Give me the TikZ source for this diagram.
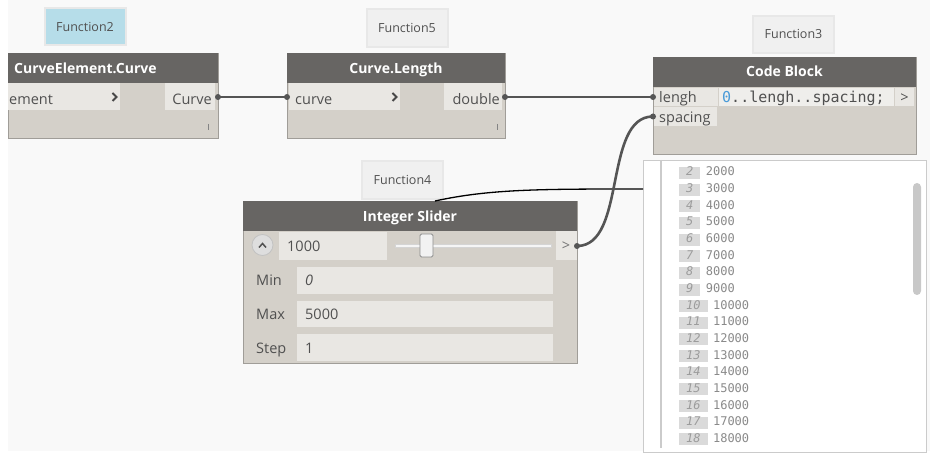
\documentclass[tikz,border=0pt]{standalone}
\usepackage{fontspec}
\setmainfont{Open Sans}
\newfontfamily\codefont{DejaVu Sans Mono}
\usetikzlibrary{calc}

\definecolor{canvas}{HTML}{F9F9F9}
\definecolor{hdrc}{HTML}{676563}
\definecolor{bodyc}{HTML}{D4D0C9}
\definecolor{edgec}{HTML}{A09D98}
\definecolor{portc}{HTML}{E9E7E3}
\definecolor{codec}{HTML}{EFEEEB}
\definecolor{ptxt}{HTML}{505050}
\definecolor{lblc}{HTML}{F0F0F0}
\definecolor{lblshade}{HTML}{E8E8E8}
\definecolor{lblblue}{HTML}{B6DDE9}
\definecolor{wirec}{HTML}{555555}
\definecolor{codeblue}{HTML}{4A9BD8}
\definecolor{listline}{HTML}{CBCBCB}
\definecolor{idxc}{HTML}{DADADA}
\definecolor{idxtxt}{HTML}{9C9C9C}
\definecolor{valtxt}{HTML}{8A8A8A}
\definecolor{scrollc}{HTML}{C8C8C8}

\begin{document}
\begin{tikzpicture}[x=1pt,y=-1pt,
  box/.style={anchor=north west, inner sep=0pt, outer sep=0pt, draw=none},
  bodybox/.style={box, fill=bodyc, draw=edgec, line width=0.8pt},
  hdr/.style={box, fill=hdrc},
  port/.style={box, fill=portc},
  fnlab/.style={fill=lblc, draw=lblshade, line width=2pt, inner sep=0pt,
    text=ptxt, font=\fontsize{12.5}{14}\selectfont},
  fntxt/.style={inner sep=0pt, text=ptxt, font=\fontsize{12.5}{14}\selectfont},
  title/.style={inner sep=0pt, text=white, font=\fontsize{14}{16}\selectfont\bfseries},
  ptext/.style={inner sep=0pt, text=ptxt, font=\fontsize{14.5}{17}\selectfont},
  chev/.style={draw=ptxt!90!black, line width=2pt},
  tickmark/.style={draw=ptxt!70, line width=0.9pt},
  wire/.style={draw=wirec, line width=2.6pt},
  pin/.style={fill=wirec},
  idx/.style={fill=idxc, inner xsep=7pt, inner ysep=0pt, text height=9pt, text depth=3pt,
    text=idxtxt, font=\codefont\fontsize{12}{14}\selectfont\itshape},
  val/.style={inner sep=0pt, text=valtxt, font=\codefont\fontsize{12}{14}\selectfont}]

\useasboundingbox (0,0) rectangle (930,454);
\fill[white] (0,0) rectangle (930,454);
\fill[canvas] (8,0) rectangle (930,451);

% ---------- group labels ----------
\node[fnlab, fill=lblblue, minimum width=81, minimum height=37] (f2) at (85,26.5) {};
\node[fntxt, anchor=base] (f2t) at (85,32) {Function2};
\node[fnlab, minimum width=81, minimum height=38] (f5) at (407,28) {};
\node[fntxt, anchor=base] (f5t) at (407,32.5) {Function5};
\node[fnlab, minimum width=81, minimum height=37] (f3) at (793.5,34.5) {};
\node[fntxt, anchor=base] (f3t) at (793.5,38.5) {Function3};
\node[fnlab, minimum width=81, minimum height=38] (f4) at (402.5,180) {};
\node[fntxt, anchor=base] (f4t) at (402.5,185) {Function4};

% ---------- CurveElement.Curve ----------
\node[bodybox, minimum width=210, minimum height=85] (cec) at (8,53) {};
\node[hdr, minimum width=210, minimum height=30] (cecHead) at (8,53) {};
\node[title, anchor=base west] (cecTitle) at (14,74) {CurveElement.Curve};
\node[port, minimum width=112, minimum height=27] (cecIn) at (8,83) {};
\node[ptext, anchor=base west] (cecInT) at (9,105) {ement};
\draw[chev] (112.5,93) -- (116.5,97) -- (112.5,101);
\node[port, minimum width=50, minimum height=27] (cecOut) at (165,83) {};
\node[ptext, anchor=base east] (cecOutT) at (212,105) {Curve};
\draw[tickmark] (208,124) -- (208,130);

% ---------- Curve.Length ----------
\node[bodybox, minimum width=218, minimum height=85] (cl) at (287,53) {};
\node[hdr, minimum width=218, minimum height=30] (clHead) at (287,53) {};
\node[title, anchor=base] (clTitle) at (396,74) {Curve.Length};
\node[port, minimum width=111, minimum height=27] (clIn) at (289,83) {};
\node[ptext, anchor=base west] (clInT) at (295,105) {curve};
\draw[chev] (392.5,93) -- (396.5,97) -- (392.5,101);
\node[port, minimum width=58, minimum height=27] (clOut) at (444,83) {};
\node[ptext, anchor=base east] (clOutT) at (500,105) {double};
\draw[tickmark] (497,124) -- (497,130);

% ---------- Code Block ----------
\node[bodybox, minimum width=263, minimum height=97] (cb) at (653,57) {};
\node[hdr, minimum width=263, minimum height=30] (cbHead) at (653,57) {};
\node[title, anchor=base] (cbTitle) at (784.5,77) {Code Block};
\node[port, minimum width=64, minimum height=18] (cbA) at (654,88) {};
\node[ptext, anchor=base west] (cbAT) at (659,103) {lengh};
\node[port, minimum width=63, minimum height=19] (cbB) at (654,107) {};
\node[ptext, anchor=base west] (cbBT) at (659,123) {spacing};
\node[box, fill=codec, minimum width=175, minimum height=18] (cbCode) at (719,88) {};
\node[inner sep=0pt, anchor=base west, text=ptxt, font=\codefont\fontsize{15}{17}\selectfont]
  (cbCodeT) at (722,103) {\textcolor{codeblue}{0}..lengh..spacing;};
\node[port, minimum width=19, minimum height=18] (cbOut) at (895,88) {};
\node[ptext, anchor=base] (cbOutT) at (904.5,102.5) {>};

% ---------- Integer Slider ----------
\node[bodybox, minimum width=334, minimum height=162] (sl) at (243,201) {};
\node[hdr, minimum width=334, minimum height=30] (slHead) at (243,201) {};
\node[title, anchor=base] (slTitle) at (410,222) {Integer Slider};
\node[circle, fill=black!13, draw=black!24, line width=0.8pt, minimum size=21, inner sep=0pt]
  (slBtn) at (262.5,245) {};
\draw[draw=ptxt, line width=1.5pt] (259,247.5) -- (262.5,243.5) -- (266,247.5);
\node[port, minimum width=108, minimum height=28] (slVal) at (279,232) {};
\node[ptext, anchor=base west] (slValT) at (287,252) {1000};
\filldraw[fill=black!4, draw=black!17, line width=0.6pt] (395,244) rectangle (551,247);
\filldraw[fill=black!5, draw=black!45, line width=0.8pt, rounded corners=1.5pt]
  (420,234) rectangle (433,257);
\node[port, minimum width=21, minimum height=29] (slOut) at (556,231) {};
\node[ptext, anchor=base, text=ptxt!80] (slOutT) at (566,251) {>};
\node[port, minimum width=256, minimum height=27] (slMin) at (297,267) {};
\node[ptext, anchor=base west] (slMinL) at (256,286) {Min};
\node[ptext, anchor=base west] (slMinV) at (305,286) {\itshape 0};
\node[port, minimum width=256, minimum height=26] (slMax) at (297,301) {};
\node[ptext, anchor=base west] (slMaxL) at (256,320) {Max};
\node[ptext, anchor=base west] (slMaxV) at (305,320) {5000};
\node[port, minimum width=256, minimum height=27] (slStep) at (297,334) {};
\node[ptext, anchor=base west] (slStepL) at (256,354) {Step};
\node[ptext, anchor=base west] (slStepV) at (305,354) {1};

% ---------- preview list ----------
\node[box, fill=white, draw=listline, line width=0.8pt, minimum width=283, minimum height=292]
  (watch) at (643,160) {};
\draw[listline, line width=1.5pt] (661,160) -- (661,448);
\foreach \i in {2,...,18} {
  \pgfmathsetmacro\yy{176+(\i-2)*16.65}
  \node[idx, anchor=base west] (ix\i) at (679,\yy) {\i};
  \node[val, anchor=base west] (v\i) at ($(ix\i.base east)+(5,0)$) {\i000};
}
\fill[scrollc, rounded corners=4pt] (913,183) rectangle (921,295);

% ---------- connectors ----------
\draw[black, line width=1.3pt] ($(slHead.north west)+(192,0)$)
  .. controls +(55,-12) and +(-103,0) .. ($(watch.north west)+(0,29)$);

\draw[wire] ($(cecOut.east)+(3,0.5)$) .. controls +(30,0) and +(-30,0) .. ($(clIn.west)+(-2,0.5)$);
\draw[wire] ($(clOut.east)+(3,0.5)$) .. controls +(50,0) and +(-50,0) .. ($(cbA.west)+(-1,0)$);
\draw[wire] ($(slOut.east)+(0,0.5)$) .. controls +(50,0) and +(-50,0) .. ($(cbB.west)+(-1,0)$);

\fill[pin] ($(cecOut.east)+(3,0.5)$) circle (3);
\fill[pin] ($(clIn.west)+(-2,0.5)$) circle (3);
\fill[pin] ($(clOut.east)+(3,0.5)$) circle (3);
\fill[pin] ($(cbA.west)+(-1,0)$) circle (3);
\fill[pin] ($(slOut.east)+(0,0.5)$) circle (3);
\fill[pin] ($(cbB.west)+(-1,0)$) circle (3);
\end{tikzpicture}
\end{document}
